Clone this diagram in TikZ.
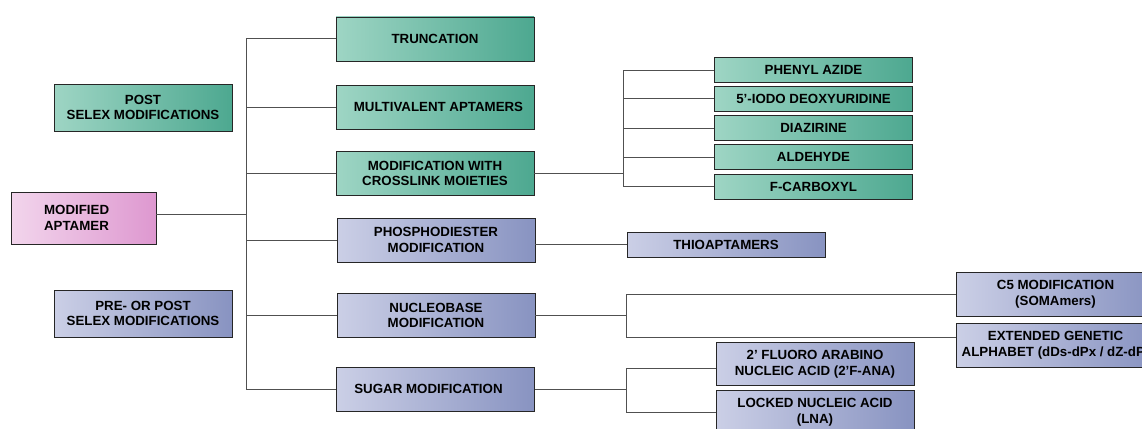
\documentclass[tikz,border=0pt]{standalone}
\usepackage{fontspec}
\setmainfont{Liberation Sans}
\usetikzlibrary{positioning}
\definecolor{greenL}{HTML}{9ED5C4}
\definecolor{greenR}{HTML}{4DA890}
\definecolor{blueL}{HTML}{CBCFE6}
\definecolor{blueR}{HTML}{8893C1}
\definecolor{pinkL}{HTML}{F2D5EC}
\definecolor{pinkR}{HTML}{DE98D0}
\definecolor{edgegray}{HTML}{505050}
\tikzset{
box/.style={
    draw=black!85, line width=0.9pt,
    font=\fontsize{13.3}{15.5}\selectfont\bfseries,
    align=center, inner sep=1pt,
    minimum width=198, minimum height=44
},
gbox/.style={box, left color=greenL, right color=greenR},
bbox/.style={box, left color=blueL, right color=blueR},
pbox/.style={box, left color=pinkL, right color=pinkR},
thin/.style={minimum height=25},
link/.style={draw=edgegray, line width=1pt}
}

\begin{document}
\begin{tikzpicture}[x=1pt,y=-1pt]
\useasboundingbox (0,0) rectangle (1142,428);
\clip (0,0) rectangle (1142,428);
% left column
\node[gbox, minimum width=178, minimum height=47] (post) at (143,107.5) {POST\\SELEX MODIFICATIONS};
\node[pbox, minimum width=145, minimum height=52, align=left] (root) at (83.5,218) {MODIFIED\\APTAMER\hspace*{14pt}};
\node[bbox, minimum width=178, minimum height=47] (prepost) at (143,313.5) {PRE- OR POST\\SELEX MODIFICATIONS};
% middle column
\node[gbox] (trunc) at (435,39) {TRUNCATION};
\node[gbox] (multi) at (435.5,107) {\hspace*{6pt}MULTIVALENT APTAMERS};
\node[gbox] (cross) at (435,173.5) {MODIFICATION WITH\\CROSSLINK MOIETIES};
\node[bbox] (phos) at (436,240) {PHOSPHODIESTER\\MODIFICATION};
\node[bbox] (nucl) at (436,315.5) {NUCLEOBASE\\MODIFICATION};
\node[bbox] (sugar) at (435.5,389) {SUGAR MODIFICATION\hspace*{14pt}};
% crosslink moieties
\node[gbox, thin] (phenyl) at (813.5,70) {PHENYL AZIDE};
\node[gbox, thin] (iodo) at (813.5,98.5) {5’-IODO DEOXYURIDINE};
\node[gbox, thin] (diaz) at (813.5,128) {DIAZIRINE};
\node[gbox, thin] (ald) at (813.5,157) {ALDEHYDE};
\node[gbox, thin] (fcarb) at (813.5,186.5) {F-CARBOXYL};
% phosphodiester
\node[bbox, thin] (thio) at (726,244.5) {THIOAPTAMERS};
% nucleobase
\node[bbox] (c5) at (1055.5,294) {C5 MODIFICATION\\(SOMAmers)};
\node[bbox] (egen) at (1055.5,345) {EXTENDED GENETIC\\ALPHABET (dDs-dPx / dZ-dP)};
% sugar
\node[bbox, minimum height=43] (fana) at (815,364) {2’ FLUORO ARABINO\\NUCLEIC ACID (2’F-ANA)};
\node[bbox, minimum height=43] (lna) at (815,412) {LOCKED NUCLEIC ACID\\(LNA)};

% connectors
\coordinate (hub) at (246,214);
\coordinate (hubx) at (623,173.5);
\coordinate (huby) at (626,315.5);
\coordinate (hubz) at (626,389);
\draw[link] ([yshift=4pt]root.east) -- (hub);
\foreach \n in {trunc,multi,cross,phos,nucl,sugar}
    \draw[link] (\n.west) -| (hub);
\draw[link] (cross.east) -- (hubx);
\foreach \n in {phenyl,iodo,diaz,ald,fcarb}
    \draw[link] (\n.west) -| (hubx);
\draw[link] (thio.west) -- (thio.west -| phos.east);
\draw[link] (nucl.east) -- (huby);
\draw[link] (c5.west) -| (huby);
\draw[link] ([yshift=8pt]egen.west) -| (huby);
\draw[link] (sugar.east) -- (hubz);
\draw[link] ([yshift=-4pt]fana.west) -| (hubz);
\draw[link] (lna.west) -| (hubz);
\end{tikzpicture}
\end{document}
